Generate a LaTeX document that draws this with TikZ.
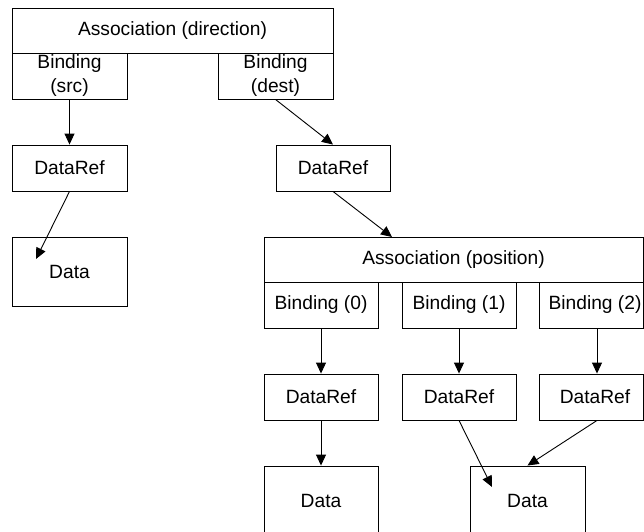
\documentclass[tikz,border=0pt]{standalone}
\usepackage{fontspec}
\setmainfont{Liberation Sans}
\usetikzlibrary{arrows.meta,calc}
\begin{document}
\begin{tikzpicture}[x=1pt,y=-1pt,
  box/.style={draw=black,line width=0.9pt,inner sep=0pt,minimum height=46pt,
    font=\fontsize{19.2}{24}\selectfont,align=center},
  conn/.style={line width=0.9pt,-{Triangle[length=11pt,width=10pt]}}]
\useasboundingbox (0,0) rectangle (644,531);
\clip (0,0) rectangle (644,531);
\fill[white] (0,0) rectangle (644,531);
% left column
\node[box,minimum width=321pt,minimum height=45pt] (ad) at (172.5,30.5) {Association (direction)};
\node[box,minimum width=115pt] (bs) at (69.5,76) {Binding\\(src)};
\node[box,minimum width=115pt] (bd) at (275.5,76) {Binding\\(dest)};
\node[box,minimum width=115pt] (drs) at (69.5,168) {DataRef};
\node[box,minimum width=115pt,minimum height=69pt] (ds) at (69.5,271.5) {Data};
\node[box,minimum width=114pt] (drd) at (333,168) {DataRef};
% right structure
\node[box,minimum width=379pt,minimum height=45pt] (ap) at (453.5,259.5) {Association (position)};
\node[box,minimum width=114pt] (b0) at (321,305) {Binding (0)};
\node[box,minimum width=114pt] (b1) at (459,305) {Binding (1)};
\node[box,minimum width=104pt] (b2) at (591,305) {\hspace*{8pt}Binding (2)};
\node[box,minimum width=114pt] (dr0) at (321,397) {DataRef};
\node[box,minimum width=114pt] (dr1) at (459,397) {DataRef};
\node[box,minimum width=104pt] (dr2) at (591,397) {\hspace*{8pt}DataRef};
\node[box,minimum width=114pt,minimum height=69pt] (d0) at (321,500.5) {Data};
\node[box,minimum width=115pt,minimum height=69pt] (d1) at (527.5,500.5) {Data};
% free ends
\coordinate (t1) at (36,259);
\coordinate (t2) at (392,237);
\coordinate (t3) at (492,487);
% connectors
\draw[conn] (bs.south) -- (drs.north);
\draw[conn] (drs.south) -- (t1);
\draw[conn] (bd.south) -- (drd.north);
\draw[conn] (drd.south) -- (t2);
\draw[conn] (b0.south) -- (dr0.north);
\draw[conn] (b1.south) -- (dr1.north);
\draw[conn] ($(b2.south)+(6,0)$) -- ($(dr2.north)+(6,0)$);
\draw[conn] (dr0.south) -- (d0.north);
\draw[conn] (dr1.south) -- (t3);
\draw[conn] ($(dr2.south)+(6,0)$) -- (d1.north);
\end{tikzpicture}
\end{document}
